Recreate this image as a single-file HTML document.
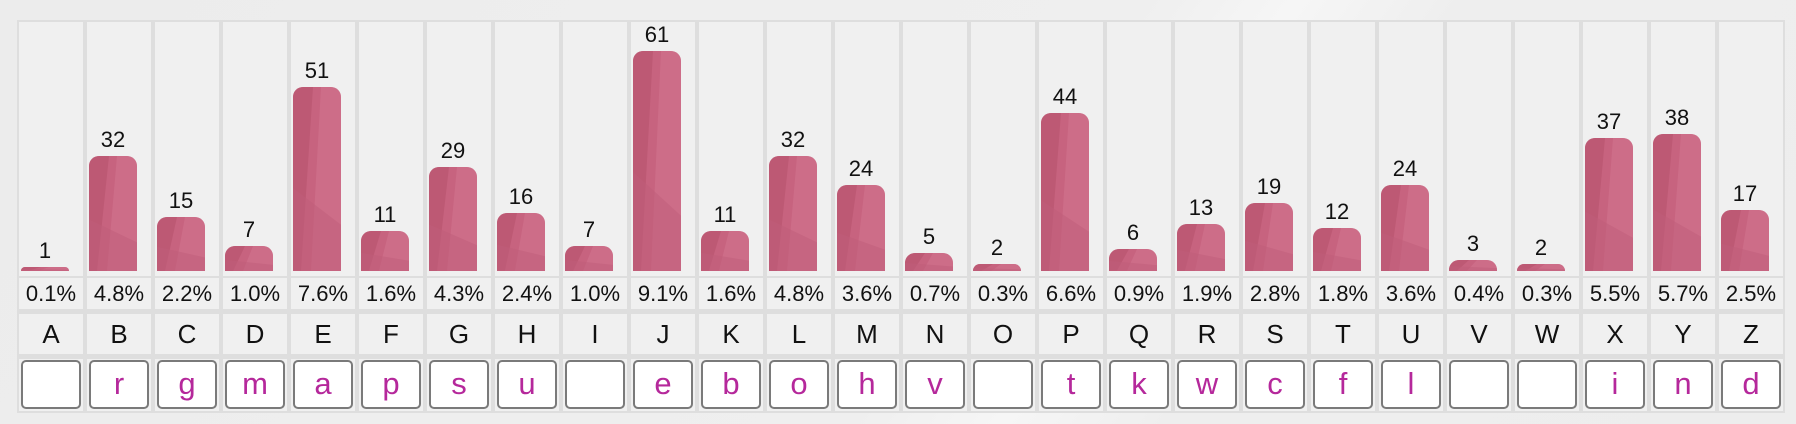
<!DOCTYPE html>
<html><head><meta charset="utf-8">
<style>
html,body{margin:0;padding:0;}
body{width:1796px;height:424px;background:linear-gradient(125deg,#ececec 0%,#efefef 55%,#f6f6f6 62%,#eeeeee 70%,#ededed 100%);font-family:"Liberation Sans",Arial,sans-serif;position:relative;overflow:hidden;}
#panel{position:absolute;left:17px;top:20px;width:1768px;height:393px;background:#dedede;}
.cell{position:absolute;background:#f0f0f0;}
.val{position:absolute;font-size:22px;color:#111;text-align:center;width:48px;}
.pct{font-size:22px;color:#111;text-align:center;line-height:31px;}
.let{font-size:26px;color:#111;text-align:center;line-height:40px;}
.inp{position:absolute;background:#fff;border:2px solid #7a7a7a;border-radius:5px;box-sizing:border-box;color:#b5289b;font-size:31px;text-align:center;line-height:44px;}
.bar{position:absolute;border-radius:10px 10px 0 0;overflow:hidden;background:#c7637f;}
</style></head>
<body>
<div id="panel"></div>
<script>
const categories=["A","B","C","D","E","F","G","H","I","J","K","L","M","N","O","P","Q","R","S","T","U","V","W","X","Y","Z"];
const counts=[1,32,15,7,51,11,29,16,7,61,11,32,24,5,2,44,6,13,19,12,24,3,2,37,38,17];
const percents=["0.1%","4.8%","2.2%","1.0%","7.6%","1.6%","4.3%","2.4%","1.0%","9.1%","1.6%","4.8%","3.6%","0.7%","0.3%","6.6%","0.9%","1.9%","2.8%","1.8%","3.6%","0.4%","0.3%","5.5%","5.7%","2.5%"];
const guesses=["","r","g","m","a","p","s","u","","e","b","o","h","v","","t","k","w","c","f","l","","","i","n","d"];

const panel=document.getElementById('panel');
const pitch=68, baseY=251, unit=3.6;
function xScale(i){return i*pitch;}
function yScale(v){return v*unit;}
function mk(cls,name,inter){const d=document.createElement('div');d.className=cls;


panel.appendChild(d);return d;}
categories.forEach((c,i)=>{
  const x=xScale(i)+2;
  const col=mk('cell','bar-column-'+c,'false');
  col.style.cssText+=`left:${x}px;top:2px;width:64px;height:${baseY+3}px;`;
  const h=yScale(counts[i]);
  const b=mk('bar','bar-'+c,'false');
  b.style.cssText+=`left:${x+2}px;top:${baseY-h}px;width:48px;height:${h}px;`;
  b.innerHTML=`<svg width="48" height="${h}" style="position:absolute;left:0;bottom:0" viewBox="0 0 48 ${Math.max(h,1)}" preserveAspectRatio="none"><polygon points="0,0 20,0 8,${h} 0,${h}" fill="#b9566f" opacity=".7"/><polygon points="28,0 48,0 48,${h} 18,${h}" fill="#d57b94" opacity=".45"/><polygon points="0,${h*0.55} 48,${h*0.75} 48,${h} 0,${h}" fill="#c05d7a" opacity=".5"/></svg>`;
  const v=mk('val','value-label-'+c,'false');
  v.textContent=counts[i];
  v.style.cssText+=`left:${x+2}px;top:${baseY-h-29}px;`;
  const p=mk('cell pct','percent-'+c,'false');
  p.textContent=percents[i];
  p.style.cssText+=`left:${x}px;top:258px;width:64px;height:31px;`;
  const l=mk('cell let','letter-'+c,'false');
  l.textContent=c;
  l.style.cssText+=`left:${x}px;top:294px;width:64px;height:40px;`;
  const ic=mk('cell','input-cell-'+c,'false');
  ic.style.cssText+=`left:${x}px;top:339px;width:64px;height:52px;`;
  const inp=mk('inp','guess-input-'+c,'true');
  inp.textContent=guesses[i];
  inp.style.cssText+=`left:${x+2}px;top:340px;width:60px;height:49px;`;
});
</script>
</body></html>
